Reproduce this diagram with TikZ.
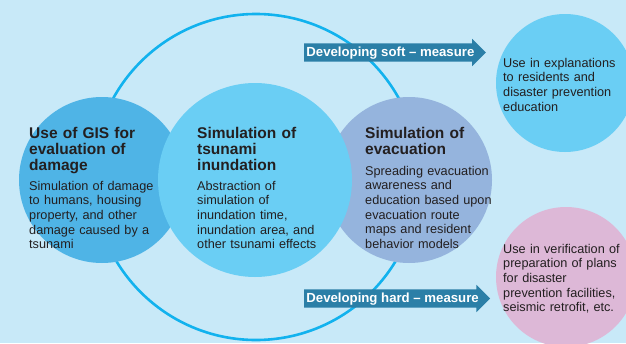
\documentclass[tikz,border=0pt]{standalone}
\usepackage{fontspec}
\setmainfont{Liberation Sans}
\usepackage{xcolor}
\usepackage{tikz}
\usetikzlibrary{shapes.arrows, positioning}
\definecolor{bgblue}{HTML}{C8E9F8}
\definecolor{ringblue}{HTML}{12B2EE}
\definecolor{gisblue}{HTML}{4FB4E6}
\definecolor{skyblue}{HTML}{6ACEF4}
\definecolor{evacblue}{HTML}{95B4DD}
\definecolor{pinkuse}{HTML}{DDB8D7}
\definecolor{arrowblue}{HTML}{2B7FA7}
\definecolor{ink}{HTML}{231F20}

\begin{document}
\begin{tikzpicture}[x=1pt, y=-1pt,
  disc/.style={circle, inner sep=0pt, minimum size=#1},
  head/.style={anchor=base west, inner sep=0pt, text width=160pt, align=left,
               text=ink, font=\fontsize{15.5}{16.3}\selectfont\bfseries},
  body/.style={anchor=base west, inner sep=0pt, text width=160pt, align=left,
               text=ink, font=\fontsize{12.7}{14.7}\selectfont},
  measure/.style={single arrow, fill=arrowblue, text=white, anchor=tail,
                  font=\fontsize{13.2}{14}\selectfont\bfseries,
                  single arrow head extend=4.5pt, inner xsep=2pt, inner ysep=2.8pt,
                  text height=10.4pt, text depth=2pt}]
  \fill[bgblue] (0,0) rectangle (626,343);
  \useasboundingbox (0,0) rectangle (626,343);
  \clip (0,0) rectangle (626,343);

  % outer ring and the three simulation discs
  \node[disc=326pt, draw=ringblue, line width=2.6pt] (ring) at (256,177) {};
  \node[disc=166pt, fill=gisblue] (gis) at (102,180) {};
  \node[disc=166pt, fill=evacblue] (evac) at (409,180) {};
  \node[disc=194pt, fill=skyblue] (inund) at (255,180) {};

  % uses on the right
  \node[disc=138pt, fill=skyblue] (softuse) at (565,83) {};
  \node[disc=140pt, fill=pinkuse] (harduse) at (566,277) {};

  \node[measure] (soft) at (304,52.5) {Developing soft -- measure};
  \node[measure] (hard) at (304,298.5) {Developing hard -- measure};

  % texts
  \node[head] (gishead) at (29,138) {Use of GIS for\\evaluation of\\damage};
  \node[body] (gisbody) at (29,190) {Simulation of damage\\to humans, housing\\property, and other\\damage caused by a\\tsunami};
  \node[head] (inundhead) at (197,138) {Simulation of\\tsunami\\inundation};
  \node[body] (inundbody) at (197,190) {Abstraction of\\simulation of\\inundation time,\\inundation area, and\\other tsunami effects};
  \node[head] (evachead) at (365,138) {Simulation of\\evacuation};
  \node[body] (evacbody) at (365,175) {Spreading evacuation\\awareness and\\education based upon\\evacuation route\\maps and resident\\behavior models};
  \node[body] (softtext) at (503,67) {Use in explanations\\to residents and\\disaster prevention\\education};
  \node[body] (hardtext) at (503,253) {Use in verification of\\preparation of plans\\for disaster\\prevention facilities,\\seismic retrofit, etc.};
\end{tikzpicture}
\end{document}
